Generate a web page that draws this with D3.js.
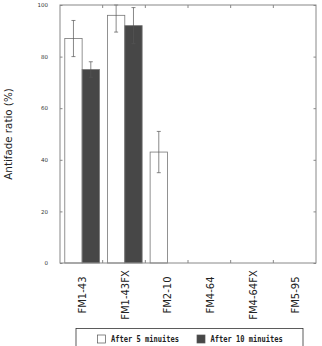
<!DOCTYPE html>
<html>
<head>
<meta charset="utf-8">
<script src="https://cdn.jsdelivr.net/npm/d3@7"></script>
<style>
body { margin: 0; background: #fff; }
text { font-family: "DejaVu Sans", sans-serif; }
text.legend { font-family: "DejaVu Sans Mono", monospace; font-weight: bold; }
</style>
</head>
<body>
<div class="container"></div>
<script>
const categories = ["FM1-43", "FM1-43FX", "FM2-10", "FM4-64", "FM4-64FX", "FM5-95"];
const series = ["After 5 minuites", "After 10 minuites"];
const after5 = [87, 96, 43, 0, 0, 0];
const after5Err = [7, 6.5, 8, 0, 0, 0];
const after10 = [75, 92, 0, 0, 0, 0];
const after10Err = [3, 7, 0, 0, 0, 0];
const yTicks = [0, 20, 40, 60, 80, 100];

const width = 322, height = 346;
const margin = {left: 60, right: 6, top: 5, bottom: 83};
const svg = d3.select(".container")
              .append("svg")
              .attr("width", width)
              .attr("height", height);

const x = d3.scaleBand()
            .domain(categories)
            .range([margin.left, width - margin.right]);
const inner = d3.scaleBand()
                .domain(series)
                .range([0, x.bandwidth()])
                .paddingInner(0)
                .paddingOuter(0.23)
                .align(0.6);
const y = d3.scaleLinear()
            .domain([0, 100])
            .range([height - margin.bottom, margin.top]);

const rows = categories.map((c, i) => [
    {cat: c, s: series[0], v: after5[i], e: after5Err[i]},
    {cat: c, s: series[1], v: after10[i], e: after10Err[i]}
]).flat();
const colors = {[series[0]]: "#fff", [series[1]]: "#474747"};

// bars
svg.selectAll("rect.bar")
   .data(rows.filter(d => d.v > 0))
   .join("rect")
   .attr("class", "bar")
   .attr("x", d => x(d.cat) + inner(d.s))
   .attr("y", d => y(d.v))
   .attr("width", inner.bandwidth())
   .attr("height", d => y(0) - y(d.v))
   .attr("fill", d => colors[d.s])
   .attr("stroke", "#777")
   .attr("stroke-width", 0.8);

// error bars
const errs = svg.selectAll("g.err")
                .data(rows.filter(d => d.e > 0))
                .join("g")
                .attr("class", "err")
                .attr("stroke", "#555")
                .attr("stroke-width", 0.7);
const cx = d => x(d.cat) + inner(d.s) + inner.bandwidth() / 2;
errs.append("line")
    .attr("x1", cx).attr("x2", cx)
    .attr("y1", d => y(Math.min(100, d.v + d.e)))
    .attr("y2", d => y(d.v - d.e));
errs.append("line")
    .attr("x1", d => cx(d) - 2).attr("x2", d => cx(d) + 2)
    .attr("y1", d => y(Math.min(100, d.v + d.e)))
    .attr("y2", d => y(Math.min(100, d.v + d.e)));
errs.append("line")
    .attr("x1", d => cx(d) - 2).attr("x2", d => cx(d) + 2)
    .attr("y1", d => y(d.v - d.e))
    .attr("y2", d => y(d.v - d.e));

// frame
svg.append("rect")
   .attr("x", margin.left)
   .attr("y", margin.top)
   .attr("width", width - margin.left - margin.right)
   .attr("height", y(0) - margin.top)
   .attr("fill", "none")
   .attr("stroke", "#888")
   .attr("stroke-width", 1);

// y axis
const yAxis = svg.append("g")
                 .attr("transform", `translate(${margin.left},0)`)
                 .call(d3.axisLeft(y).tickValues(yTicks).tickSize(-2.5).tickPadding(12));
yAxis.select(".domain").remove();
yAxis.selectAll("line").attr("stroke", "#888");
yAxis.selectAll("text").attr("font-size", 5.5).attr("fill", "#333");

const yRight = svg.append("g")
                  .attr("transform", `translate(${width - margin.right},0)`)
                  .call(d3.axisRight(y).tickValues(yTicks).tickSize(-2.5).tickFormat(""));
yRight.select(".domain").remove();
yRight.selectAll("line").attr("stroke", "#888");

// category boundary ticks top and bottom
const bounds = categories.slice(1).map(c => x(c));
svg.selectAll("line.bt")
   .data(bounds)
   .join("line")
   .attr("x1", d => d).attr("x2", d => d)
   .attr("y1", y(0)).attr("y2", y(0) - 3)
   .attr("stroke", "#888");
svg.selectAll("line.tt")
   .data(bounds)
   .join("line")
   .attr("x1", d => d).attr("x2", d => d)
   .attr("y1", margin.top).attr("y2", margin.top + 3)
   .attr("stroke", "#888");

// category labels
svg.selectAll("text.cat")
   .data(categories)
   .join("text")
   .attr("class", "cat")
   .attr("transform", d => `translate(${x(d) + x.bandwidth() / 2 + 4.5},295) rotate(-90)`)
   .attr("text-anchor", "middle")
   .attr("font-size", 10)
   .attr("fill", "#222")
   .text(d => d);

// y title
svg.append("text")
   .attr("transform", `translate(12,134) rotate(-90)`)
   .attr("text-anchor", "middle")
   .attr("font-size", 10.3)
   .attr("fill", "#222")
   .text("Antifade ratio (%)");

// legend
const lg = svg.append("g");
lg.append("rect")
  .attr("x", 76).attr("y", 328.5)
  .attr("width", 227).attr("height", 22)
  .attr("fill", "#fff")
  .attr("stroke", "#333")
  .attr("stroke-width", 0.8);
const lx = [97.5, 197];
const items = lg.selectAll("g.item")
                .data(series)
                .join("g")
                .attr("transform", (d, i) => `translate(${lx[i]},335)`);
items.append("rect")
     .attr("width", 8).attr("height", 8)
     .attr("fill", d => colors[d])
     .attr("stroke", "#555")
     .attr("stroke-width", 0.7);
items.append("text")
     .attr("class", "legend")
     .attr("x", 13.5).attr("y", 7.2)
     .attr("font-size", 8.5)
     .attr("textLength", d => d.length * 4.25)
     .attr("lengthAdjust", "spacingAndGlyphs")
     .attr("fill", "#222")
     .text(d => d);
</script>
</body>
</html>
